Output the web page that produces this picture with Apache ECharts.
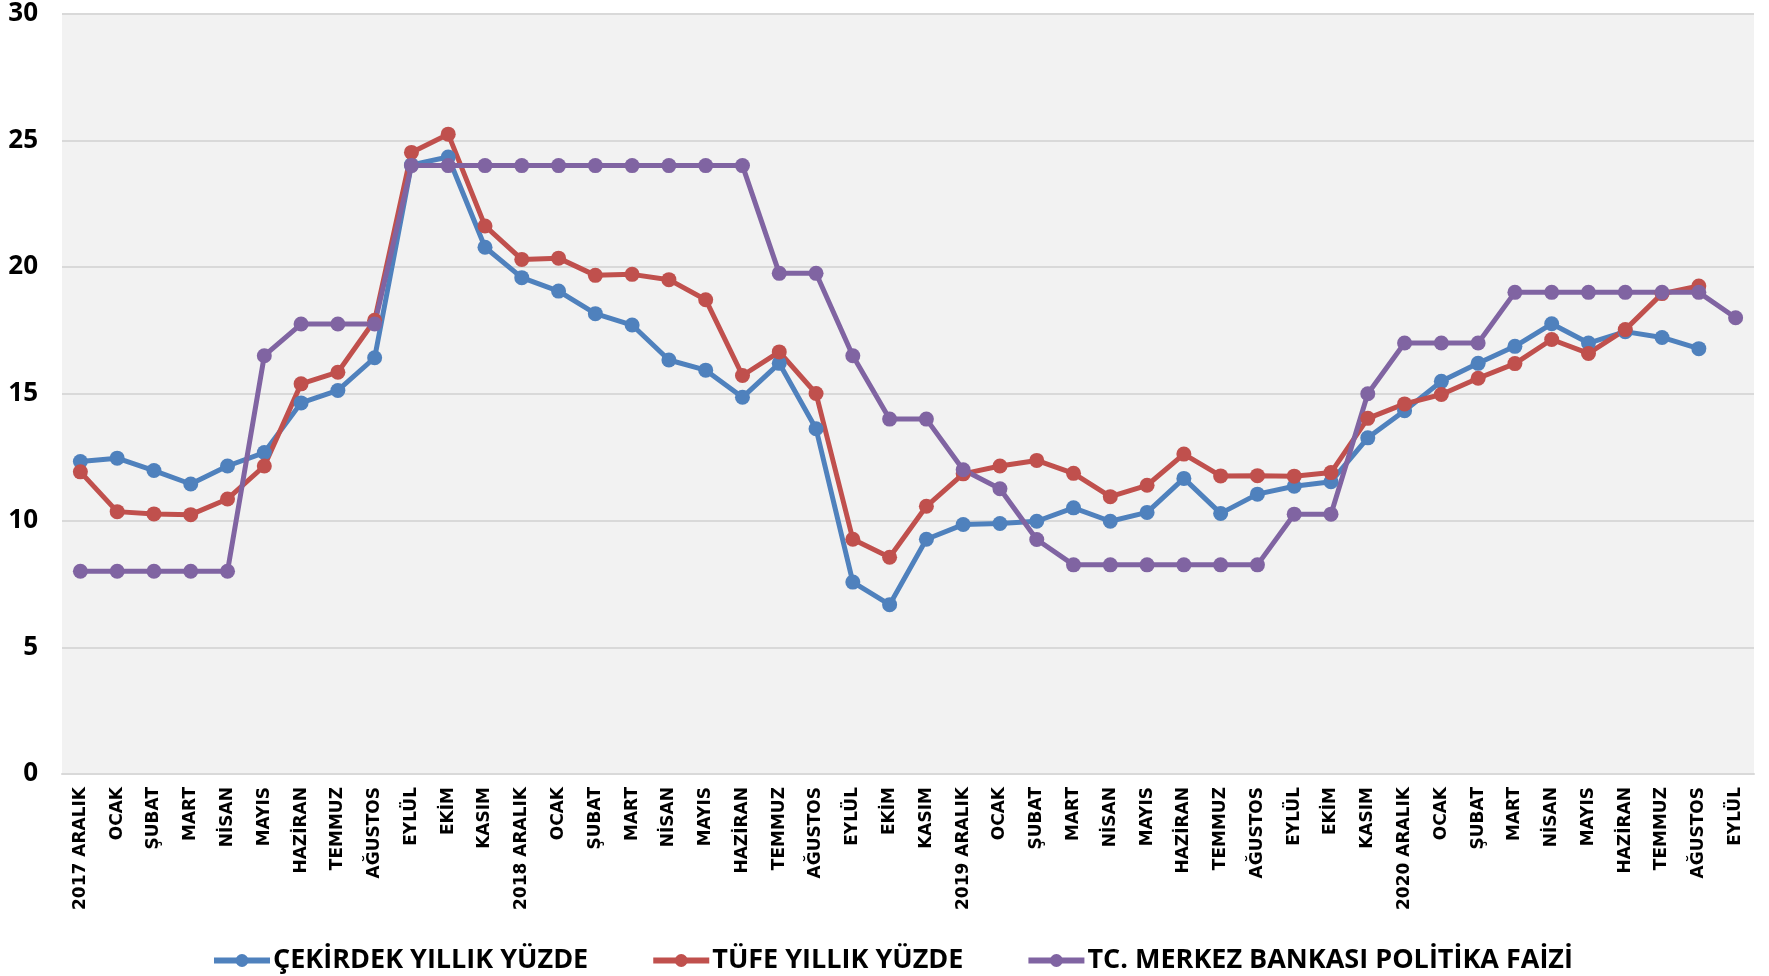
<!DOCTYPE html>
<html>
<head>
<meta charset="utf-8">
<script src="https://cdn.jsdelivr.net/npm/echarts@6/dist/echarts.min.js"></script>
<style>
html,body{margin:0;padding:0;background:#fff;}
#c{width:1769px;height:976px;}
</style>
</head>
<body>
<div id="c"></div>
<script>
var categories = ['2017 ARALIK','OCAK','ŞUBAT','MART','NİSAN','MAYIS','HAZİRAN','TEMMUZ','AĞUSTOS','EYLÜL','EKİM','KASIM',
  '2018 ARALIK','OCAK','ŞUBAT','MART','NİSAN','MAYIS','HAZİRAN','TEMMUZ','AĞUSTOS','EYLÜL','EKİM','KASIM',
  '2019 ARALIK','OCAK','ŞUBAT','MART','NİSAN','MAYIS','HAZİRAN','TEMMUZ','AĞUSTOS','EYLÜL','EKİM','KASIM',
  '2020 ARALIK','OCAK','ŞUBAT','MART','NİSAN','MAYIS','HAZİRAN','TEMMUZ','AĞUSTOS','EYLÜL'];

var cekirdek = [12.33,12.46,11.97,11.44,12.15,12.68,14.64,15.13,16.42,24.03,24.34,20.78,
  19.58,19.05,18.16,17.71,16.33,15.93,14.86,16.2,13.62,7.57,6.68,9.26,
  9.84,9.88,9.97,10.5,9.97,10.32,11.66,10.28,11.04,11.35,11.53,13.26,
  14.33,15.49,16.2,16.87,17.76,17.0,17.45,17.22,16.78,null];

var tufe = [11.92,10.35,10.26,10.23,10.85,12.15,15.39,15.85,17.9,24.52,25.24,21.62,
  20.3,20.35,19.67,19.71,19.5,18.71,15.72,16.65,15.01,9.26,8.55,10.56,
  11.84,12.15,12.37,11.86,10.94,11.39,12.62,11.76,11.77,11.75,11.89,14.03,
  14.6,14.97,15.61,16.19,17.14,16.59,17.53,18.95,19.25,null];

var faiz = [8,8,8,8,8,16.5,17.75,17.75,17.75,24,24,24,
  24,24,24,24,24,24,24,19.75,19.75,16.5,14,14,
  12,11.25,9.25,8.25,8.25,8.25,8.25,8.25,8.25,10.25,10.25,15,
  17,17,17,19,19,19,19,19,19,18];

var yTicks = [0,5,10,15,20,25,30];

var seriesNames = ['ÇEKİRDEK YILLIK YÜZDE','TÜFE YILLIK YÜZDE','TC. MERKEZ BANKASI POLİTİKA FAİZİ'];
var colors = ['#4f81bd','#c0504d','#8064a2'];

function mk(name, data, color){
  return {
    name: name, type: 'line', data: data,
    symbol: 'circle', symbolSize: 15,
    lineStyle: {width: 5, color: color},
    itemStyle: {color: color},
    connectNulls: false, animation: false
  };
}

var chart = echarts.init(document.getElementById('c'), null, {renderer:'canvas'});
chart.setOption({
  backgroundColor: '#ffffff',
  animation: false,
  color: colors,
  grid: {left: 62, right: 15, top: 13.5, bottom: 202, show: true, backgroundColor: '#f2f2f2', borderWidth: 0},
  legend: {
    top: 942, left: 206,
    itemWidth: 56, itemHeight: 16, itemGap: 62,
    lineStyle: {width: 6},
    textStyle: {fontFamily: '"Liberation Sans Narrow","Open Sans",sans-serif', fontWeight: 'bold', fontSize: 27, color: '#000', padding: [0,0,0,-2]},
    data: seriesNames
  },
  xAxis: {
    type: 'category', data: categories, boundaryGap: true,
    axisLine: {show: true, lineStyle: {color: '#d9d9d9', width: 2}},
    axisTick: {show: false},
    axisLabel: {rotate: 90, interval: 0, margin: 13, fontFamily: 'DejaVu Sans', fontWeight: 'bold', fontSize: 17, color: '#000'}
  },
  yAxis: {
    type: 'value', min: 0, max: 30, interval: 5,
    axisLine: {show: false}, axisTick: {show: false},
    splitLine: {lineStyle: {color: '#d9d9d9', width: 2}},
    axisLabel: {margin: 24, fontFamily: '"Liberation Sans Narrow","Open Sans",sans-serif', fontWeight: 'bold', fontSize: 26, color: '#000',
      formatter: function(v){ return yTicks.indexOf(v) >= 0 ? String(v) : ''; }}
  },
  series: [mk(seriesNames[0], cekirdek, colors[0]), mk(seriesNames[1], tufe, colors[1]), mk(seriesNames[2], faiz, colors[2])]
});
</script>
</body>
</html>
